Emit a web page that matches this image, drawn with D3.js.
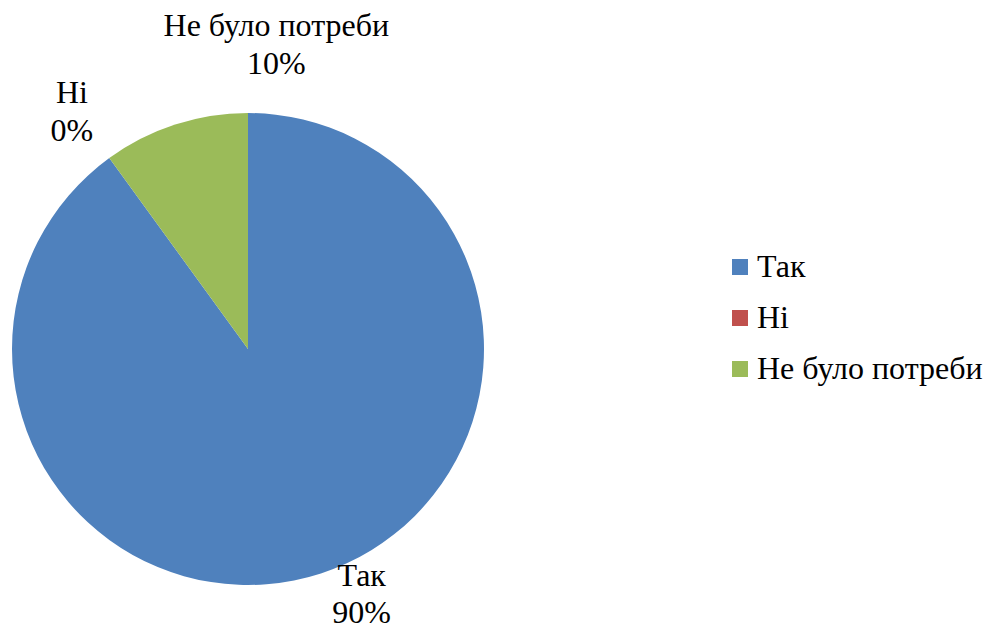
<!DOCTYPE html>
<html>
<head>
<meta charset="utf-8">
<script src="https://cdn.jsdelivr.net/npm/d3@7"></script>
<style>
  body { margin: 0; background: #fff; }
</style>
</head>
<body>
<div id="vizHolder"></div>
<script>
var categories = ['Так', 'Ні', 'Не було потреби'],
    values     = [90, 0, 10],
    colors     = ['#4F81BD', '#C0504D', '#9BBB59'];

var width = 987,
    height = 624,
    cx = 248,
    cy = 349,
    radius = 236,
    fontSize = 32,
    fontFamily = '"Liberation Serif", "Times New Roman", serif';

var svg = d3.select('#vizHolder')
  .append('svg')
  .attr('width', width)
  .attr('height', height)
  .style('font-family', fontFamily);

var pie = d3.pie().sort(null).value(function(d){ return d; });
var arcs = pie(values);

var arc = d3.arc().innerRadius(0).outerRadius(radius);

var g = svg.append('g').attr('transform', 'translate(' + cx + ',' + cy + ')');

g.selectAll('path.slice')
  .data(arcs)
  .enter()
  .append('path')
  .attr('class', 'slice')
  .attr('fill', function(d, i){ return colors[i]; })
  .attr('d', arc);

// data labels outside the pie, nudged like the original
var labelArc = d3.arc().innerRadius(radius + 38).outerRadius(radius + 38);
var labelOffsets = [[29, -24], [-15, -24], [113, -52]];

var labels = g.selectAll('text.lbl')
  .data(arcs)
  .enter()
  .append('text')
  .attr('class', 'lbl')
  .attr('text-anchor', 'middle')
  .attr('font-size', fontSize)
  .attr('fill', '#000')
  .attr('transform', function(d, i){
    var c = labelArc.centroid(d);
    return 'translate(' + (c[0] + labelOffsets[i][0]) + ',' + (c[1] + labelOffsets[i][1]) + ')';
  });

labels.append('tspan')
  .attr('x', 0)
  .text(function(d, i){ return categories[i]; });

labels.append('tspan')
  .attr('x', 0)
  .attr('dy', '1.17em')
  .text(function(d){ return d.data + '%'; });

// legend
var legendY = d3.scalePoint().domain(categories).range([267, 369]);

var legend = svg.selectAll('g.legend')
  .data(categories)
  .enter()
  .append('g')
  .attr('class', 'legend')
  .attr('transform', function(d){ return 'translate(732,' + legendY(d) + ')'; });

legend.append('rect')
  .attr('x', 0)
  .attr('y', -8)
  .attr('width', 16)
  .attr('height', 16)
  .attr('fill', function(d, i){ return colors[i]; });

legend.append('text')
  .attr('x', 25)
  .attr('y', 10)
  .attr('font-size', fontSize)
  .attr('fill', '#000')
  .text(function(d){ return d; });
</script>
</body>
</html>
